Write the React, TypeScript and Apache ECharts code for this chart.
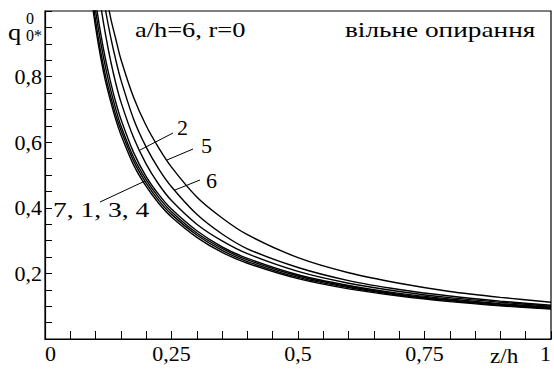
import React, { useEffect, useRef } from "react";
import * as echarts from "echarts";

const Z = [0.09, 0.1, 0.11, 0.12, 0.13, 0.14, 0.15, 0.175, 0.2, 0.225, 0.25, 0.3, 0.35, 0.4, 0.5, 0.6, 0.7, 0.8, 0.9, 1.0];

const curve5 = [null, null, 1.145, 1.058, 0.977, 0.914, 0.853, 0.737, 0.65, 0.582, 0.524, 0.433, 0.369, 0.318, 0.248, 0.202, 0.17, 0.145, 0.127, 0.112];
const curve6 = [null, null, 1.1, 1.0, 0.919, 0.85, 0.79, 0.671, 0.585, 0.518, 0.464, 0.38, 0.32, 0.275, 0.218, 0.178, 0.151, 0.131, 0.1155, 0.103];
const curve2 = [null, 1.13, 1.018, 0.925, 0.846, 0.779, 0.723, 0.614, 0.533, 0.471, 0.422, 0.35, 0.299, 0.26, 0.206, 0.17, 0.145, 0.126, 0.112, 0.1];
const curve7 = [1.061, 0.95, 0.859, 0.783, 0.723, 0.668, 0.623, 0.531, 0.465, 0.413, 0.372, 0.31, 0.264, 0.231, 0.184, 0.153, 0.131, 0.114, 0.101, 0.091];
const curve1 = [1.083, 0.97, 0.877, 0.8, 0.738, 0.682, 0.637, 0.543, 0.475, 0.422, 0.38, 0.317, 0.27, 0.236, 0.188, 0.157, 0.134, 0.117, 0.103, 0.093];
const curve3 = [1.117, 1.0, 0.905, 0.825, 0.758, 0.7, 0.65, 0.554, 0.485, 0.431, 0.388, 0.323, 0.276, 0.241, 0.192, 0.16, 0.136, 0.119, 0.1055, 0.095];
const curve4 = [1.15, 1.03, 0.932, 0.85, 0.781, 0.721, 0.67, 0.569, 0.495, 0.44, 0.396, 0.33, 0.281, 0.246, 0.196, 0.163, 0.139, 0.122, 0.108, 0.097];

const xTickLabels = [0, 0.25, 0.5, 0.75, 1];
const yTickLabels = [0.2, 0.4, 0.6, 0.8];

const FONT = "'Liberation Serif', 'Times New Roman', serif";

const fmt = (v: number) => String(+v.toFixed(2)).replace(".", ",");

function pairs(vals: (number | null)[]) {
  return Z.map((z, i) => [z, vals[i]]).filter((p) => p[1] !== null);
}

const txt = (text: string, x: number, y: number, size: number, sx: number = 1) => ({
  type: "text",
  x,
  y,
  scaleX: sx,
  style: { text, font: `${size}px ${FONT}`, fill: "#000", textVerticalAlign: "top" },
});

export default function App() {
  const ref = useRef<HTMLDivElement>(null);
  useEffect(() => {
    if (!ref.current) return;
    const chart = echarts.init(ref.current, null, { renderer: "svg" });
    const near = (a: number, list: number[]) => list.some((t) => Math.abs(t - a) < 1e-6);
    const mk = (name: string, vals: (number | null)[]) => ({
      name,
      type: "line",
      data: pairs(vals),
      showSymbol: false,
      smooth: 0.3,
      lineStyle: { color: "#000", width: 1.4 },
      clip: true,
    });
    chart.setOption({
      animation: false,
      grid: {
        left: 45,
        right: 2,
        top: 11,
        bottom: 31,
        show: true,
        borderColor: "#000",
        borderWidth: 1.2,
        backgroundColor: "transparent",
      },
      xAxis: {
        type: "value",
        min: 0,
        max: 1,
        interval: 0.05,
        axisLine: { lineStyle: { color: "#000", width: 1.2 } },
        axisTick: { inside: true, length: 8, lineStyle: { color: "#000" } },
        splitLine: { show: false },
        axisLabel: {
          color: "#000",
          fontFamily: FONT,
          fontSize: 22,
          margin: 3,
          alignMinLabel: "left",
          alignMaxLabel: "right",
          formatter: (v: number) => (near(v, xTickLabels) ? fmt(v) : ""),
        },
      },
      yAxis: {
        type: "value",
        min: 0,
        max: 1,
        interval: 0.05,
        axisLine: { lineStyle: { color: "#000", width: 1.2 } },
        axisTick: { inside: true, length: 7, lineStyle: { color: "#000" } },
        splitLine: { show: false },
        axisLabel: {
          color: "#000",
          fontFamily: FONT,
          fontSize: 22,
          margin: 3,
          formatter: (v: number) => (near(v, yTickLabels) ? fmt(v) : ""),
        },
      },
      series: [
        mk("5", curve5),
        mk("6", curve6),
        mk("2", curve2),
        mk("7", curve7),
        mk("1", curve1),
        mk("3", curve3),
        mk("4", curve4),
      ],
      graphic: [
        txt("q", 8, 20, 24, 1.1),
        txt("0", 26, 10, 16),
        txt("0*", 26, 27, 16),
        txt("a/h=6, r=0", 135, 18, 22, 1.2),
        txt("вільне опирання", 345, 18, 22, 1.24),
        txt("2", 177, 116, 22),
        txt("5", 201, 134, 22),
        txt("6", 206, 169, 22),
        txt("7, 1, 3, 4", 53, 198, 22, 1.25),
        txt("z/h", 490, 345, 21, 1.1),
        { type: "line", shape: { x1: 173, y1: 133, x2: 140, y2: 150 }, style: { stroke: "#000", lineWidth: 1 } },
        { type: "line", shape: { x1: 193, y1: 149, x2: 167, y2: 160 }, style: { stroke: "#000", lineWidth: 1 } },
        { type: "line", shape: { x1: 200, y1: 180, x2: 175, y2: 190 }, style: { stroke: "#000", lineWidth: 1 } },
        { type: "line", shape: { x1: 100, y1: 202, x2: 145, y2: 181 }, style: { stroke: "#000", lineWidth: 1 } },
      ],
    });
    return () => chart.dispose();
  }, []);
  return (
    <div
      ref={ref}
      style={{ position: "fixed", left: 0, top: 0, width: 554, height: 370, background: "#fff" }}
    />
  );
}
